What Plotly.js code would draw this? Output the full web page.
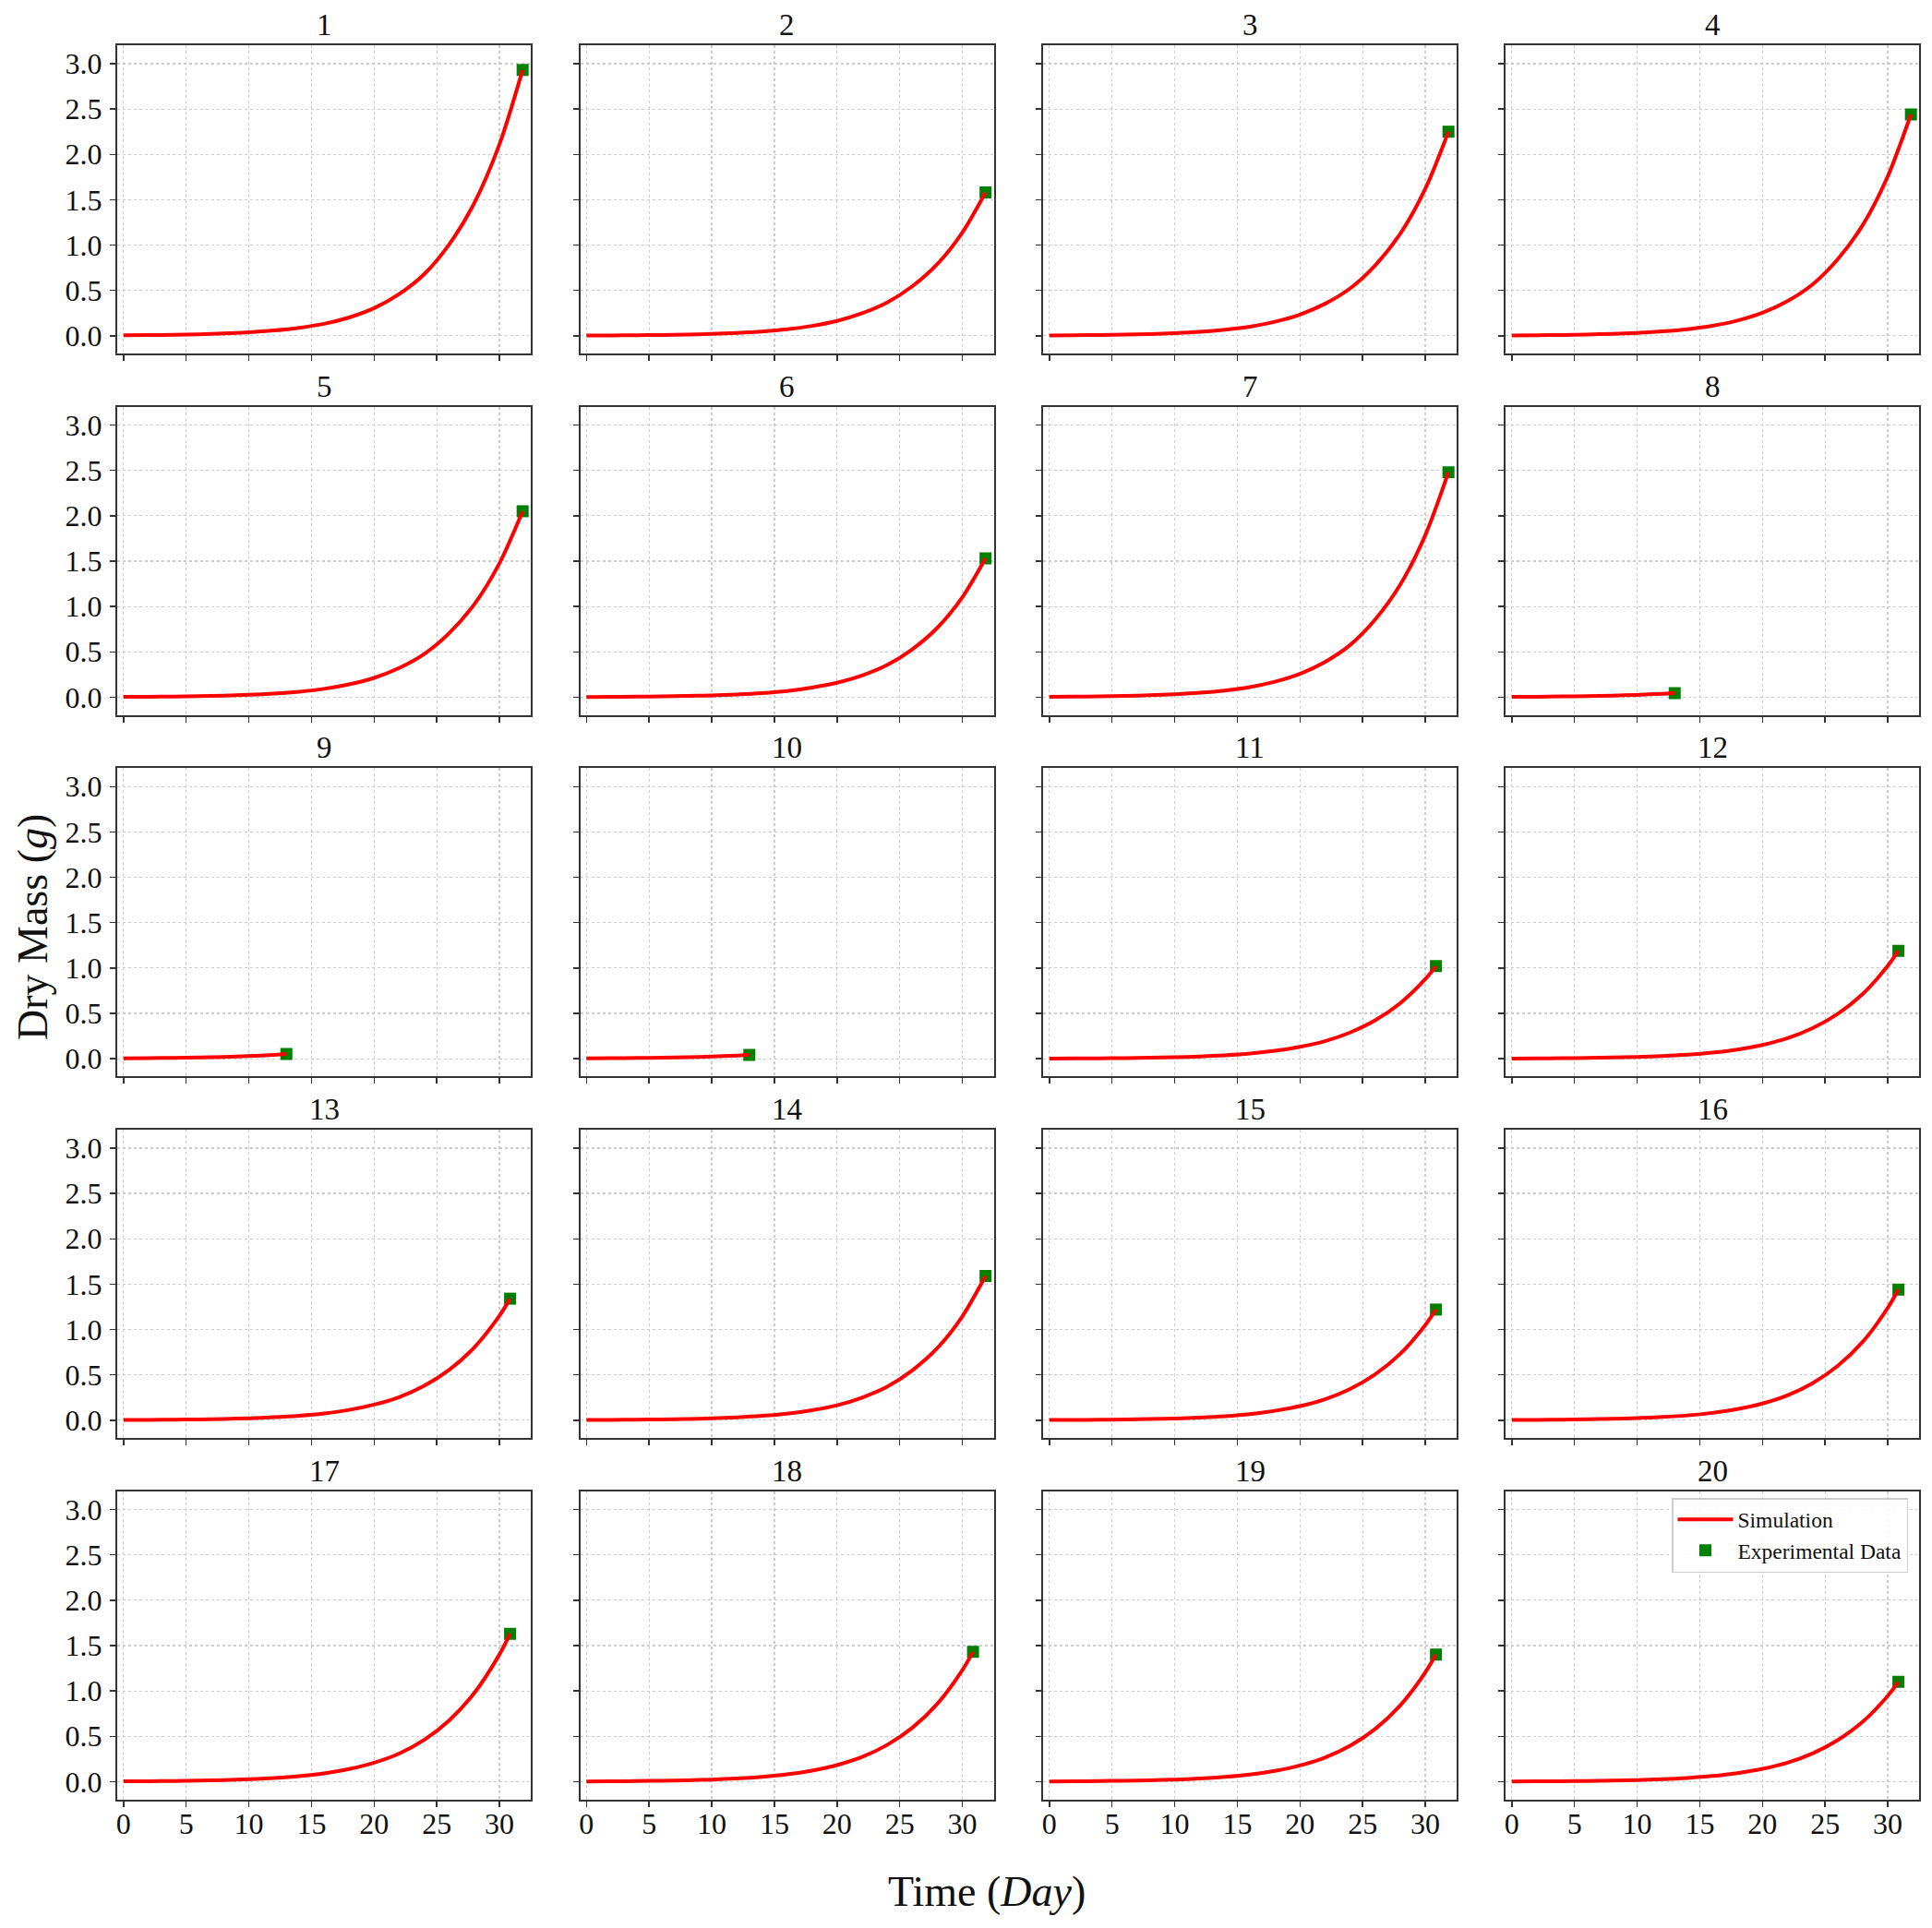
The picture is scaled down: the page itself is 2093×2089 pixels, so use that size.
<!DOCTYPE html>
<html>
<head>
<meta charset="utf-8">
<script src="https://cdn.plot.ly/plotly-3.0.1.min.js"></script>
<style>html,body{margin:0;padding:0;background:#fff;}#chart{width:2093px;height:2089px;}</style>
</head>
<body>
<div id="chart"></div>
<script>
// ---- Data ----
const panelTitles = ["1","2","3","4","5","6","7","8","9","10","11","12","13","14","15","16","17","18","19","20"];

// time grids (days)
const xA = [0,2,4,6,8,10,12,14,16,18,20,22,24,26,28,30,31.85];
const xB = [0,2,4,6,8,10,12,14,16,18,20,22,24,26,28,30,30.85];
const xC = [0,2,4,6,8,10,12,13];

// simulated dry mass (g)
const sim1  = [0.0047,0.0076,0.0114,0.017,0.026,0.039,0.059,0.088,0.132,0.202,0.305,0.46,0.68,1.01,1.465,2.11,2.93];
const sim2  = [0.0025,0.0041,0.0062,0.0092,0.0139,0.021,0.032,0.047,0.071,0.109,0.164,0.248,0.367,0.545,0.79,1.138,1.58];
const sim3  = [0.0036,0.0059,0.0088,0.013,0.0198,0.030,0.045,0.068,0.101,0.155,0.234,0.353,0.522,0.776,1.125,1.62,2.25];
const sim4  = [0.0039,0.0063,0.0095,0.0142,0.0215,0.0325,0.049,0.073,0.110,0.168,0.254,0.383,0.566,0.842,1.22,1.757,2.44];
const sim5  = [0.0033,0.0053,0.008,0.0119,0.018,0.0273,0.041,0.0615,0.092,0.141,0.213,0.322,0.476,0.707,1.025,1.476,2.05];
const sim6  = [0.0024,0.004,0.006,0.0089,0.0135,0.0203,0.031,0.046,0.069,0.106,0.159,0.240,0.355,0.528,0.765,1.102,1.53];
const sim7  = [0.004,0.0064,0.0097,0.0144,0.0218,0.033,0.0496,0.074,0.112,0.171,0.258,0.389,0.575,0.856,1.24,1.786,2.48];
const sim8  = [0.0037,0.0056,0.0083,0.0124,0.018,0.026,0.038,0.045];
const sim9  = [0.0042,0.0063,0.0094,0.014,0.0204,0.0297,0.0428,0.051];
const sim10 = [0.0034,0.0052,0.0078,0.0116,0.0168,0.0245,0.0353,0.042];
const sim11 = [0.0021,0.0032,0.0048,0.0073,0.011,0.0166,0.025,0.038,0.057,0.087,0.131,0.194,0.289,0.423,0.612,0.877,1.02];
const sim12 = [0.0025,0.0037,0.0056,0.0086,0.0129,0.0194,0.029,0.044,0.067,0.101,0.152,0.226,0.337,0.494,0.714,1.023,1.19];
const sim13 = [0.0028,0.0042,0.0063,0.0096,0.0145,0.0218,0.0328,0.0496,0.075,0.114,0.172,0.255,0.379,0.556,0.804,1.152,1.34];
const sim14 = [0.0025,0.0041,0.0062,0.0092,0.014,0.0211,0.032,0.048,0.072,0.110,0.165,0.250,0.369,0.549,0.795,1.145,1.59];
const sim15 = [0.0026,0.0038,0.0057,0.0088,0.0132,0.0199,0.030,0.045,0.068,0.104,0.156,0.232,0.345,0.506,0.732,1.049,1.22];
const sim16 = [0.003,0.0045,0.0068,0.0104,0.0156,0.0235,0.0353,0.053,0.081,0.122,0.184,0.274,0.408,0.598,0.864,1.238,1.44];
const sim17 = [0.0034,0.0051,0.0077,0.0117,0.0176,0.0266,0.040,0.060,0.091,0.139,0.209,0.310,0.461,0.676,0.978,1.402,1.63];
const sim18 = [0.003,0.0044,0.0067,0.0103,0.0154,0.0233,0.035,0.053,0.080,0.122,0.183,0.272,0.405,0.593,0.858,1.23,1.43];
const sim19 = [0.0029,0.0043,0.0066,0.0101,0.0151,0.0228,0.0343,0.052,0.078,0.119,0.179,0.266,0.396,0.581,0.84,1.204,1.40];
const sim20 = [0.0023,0.0034,0.0052,0.0079,0.0119,0.0179,0.027,0.041,0.062,0.094,0.141,0.209,0.311,0.457,0.66,0.946,1.10];

// experimental data (one measurement per panel)
const expX = [31.85,31.85,31.85,31.85,31.85,31.85,31.85,13,13,13,30.85,30.85,30.85,31.85,30.85,30.85,30.85,30.85,30.85,30.85];
const expY = [2.93,1.58,2.25,2.44,2.05,1.53,2.48,0.045,0.051,0.042,1.02,1.19,1.34,1.59,1.22,1.44,1.63,1.43,1.40,1.10];

const xTicks = [0,5,10,15,20,25,30];
const yTicks = [0.0,0.5,1.0,1.5,2.0,2.5,3.0];

// ---- Build figure ----
const simX = [xA,xA,xA,xA,xA,xA,xA,xC,xC,xC,xB,xB,xB,xA,xB,xB,xB,xB,xB,xB];
const simY = [sim1,sim2,sim3,sim4,sim5,sim6,sim7,sim8,sim9,sim10,sim11,sim12,sim13,sim14,sim15,sim16,sim17,sim18,sim19,sim20];

const W = 2093, H = 2089;
const colL = [127, 628.5, 1130, 1631];
const colW = 448;
const rowT = [49, 440.6, 832.3, 1224, 1615.6];
const rowH = 334;
const FONT = "Liberation Serif, Times New Roman, serif";

const data = [];
const layout = {
  width: W, height: H,
  margin: {l:0, r:0, t:0, b:0},
  paper_bgcolor: "#ffffff", plot_bgcolor: "#ffffff",
  font: {family: FONT, color: "#111111", size: 32},
  showlegend: true,
  legend: {
    x: 2067/W, y: 1 - 1623/H, xanchor: "right", yanchor: "top",
    bgcolor: "rgba(255,255,255,0.85)", bordercolor: "#cccccc", borderwidth: 1.5,
    font: {family: FONT, size: 23.5, color: "#111111"},
    itemwidth: 60, tracegroupgap: 0
  },
  annotations: []
};

for (let i = 0; i < 20; i++) {
  const r = Math.floor(i / 4), c = i % 4;
  const xa = "x" + (i + 1), ya = "y" + (i + 1);
  data.push({
    type: "scatter", mode: "markers", x: [expX[i]], y: [expY[i]],
    xaxis: xa, yaxis: ya, name: "Experimental Data", legendrank: 2,
    showlegend: i === 19,
    marker: {symbol: "square", size: 13, color: "#008000", line: {width: 0}},
    hoverinfo: "skip"
  });
  data.push({
    type: "scatter", mode: "lines", x: simX[i], y: simY[i],
    xaxis: xa, yaxis: ya, name: "Simulation", legendrank: 1,
    showlegend: i === 19,
    line: {color: "#ff0000", width: 4, shape: "spline", smoothing: 0.8},
    hoverinfo: "skip"
  });
  const axCommon = {
    showline: true, linecolor: "#333333", linewidth: 2, mirror: true,
    ticks: "outside", ticklen: 6, tickwidth: 1.5, tickcolor: "#333333",
    showgrid: true, gridcolor: "#cccccc", gridwidth: 1.2, griddash: "dot",
    zeroline: false, fixedrange: true,
    tickfont: {family: FONT, size: 32, color: "#111111"}
  };
  layout["xaxis" + (i + 1)] = Object.assign({}, axCommon, {
    domain: [colL[c] / W, (colL[c] + colW) / W],
    anchor: ya, range: [-0.5, 32.5],
    tickmode: "array", tickvals: xTicks, ticktext: xTicks.map(String),
    showticklabels: r === 4, ticklabelstandoff: -9
  });
  layout["yaxis" + (i + 1)] = Object.assign({}, axCommon, {
    domain: [1 - (rowT[r] + rowH) / H, 1 - rowT[r] / H],
    anchor: xa, range: [-0.195, 3.203],
    tickmode: "array", tickvals: yTicks, ticktext: yTicks.map(v => v.toFixed(1)),
    showticklabels: c === 0, ticklabelstandoff: 2
  });
  layout.annotations.push({
    xref: "paper", yref: "paper",
    x: (colL[c] + colW / 2) / W, y: 1 - (rowT[r] - 22) / H,
    xanchor: "center", yanchor: "middle", showarrow: false,
    text: panelTitles[i], font: {family: FONT, size: 33, color: "#111111"}
  });
}

layout.annotations.push({
  xref: "paper", yref: "paper", x: 1069 / W, y: 1 - 2049 / H,
  xanchor: "center", yanchor: "middle", showarrow: false,
  text: "Time (<i>Day</i>)", font: {family: FONT, size: 46, color: "#111111"}
});
layout.annotations.push({
  xref: "paper", yref: "paper", x: 35 / W, y: 1 - 1005 / H,
  xanchor: "center", yanchor: "middle", showarrow: false, textangle: -90,
  text: "Dry Mass (<i>g</i>)", font: {family: FONT, size: 46, color: "#111111"}
});

Plotly.newPlot("chart", data, layout, {staticPlot: true, displayModeBar: false});
</script>
</body>
</html>
